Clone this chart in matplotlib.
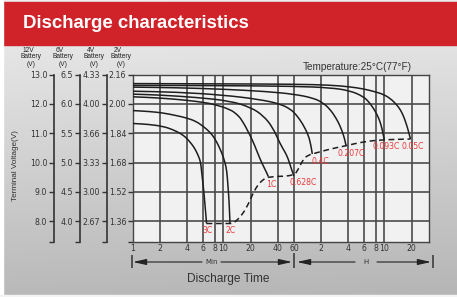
import numpy as np
import matplotlib
matplotlib.use("Agg")
import matplotlib.pyplot as plt
from matplotlib.patches import Rectangle, PathPatch
from matplotlib.path import Path

# ---------------- data ----------------
rates = ['3C', '2C', '1C', '0.628C', '0.4C', '0.207C', '0.093C', '0.05C']
# time in minutes, voltage in 12V-battery units
t_3c = [1, 1.5, 2.16, 2.7, 3.31, 3.8, 4.26, 4.7, 5.06, 5.35, 5.6, 5.74, 5.98, 6.25, 6.5]
v_3c = [11.33, 11.3, 11.23, 11.13, 11.0, 10.87, 10.7, 10.53, 10.35, 10.18, 10.0, 9.66, 9.2, 8.55, 7.92]
t_2c = [1, 1.5, 2.16, 3, 3.92, 5, 5.98, 7, 8.05, 9.55, 10.4, 10.9, 11.2, 11.5, 11.8]
v_2c = [11.77, 11.74, 11.69, 11.6, 11.52, 11.4, 11.23, 11.05, 10.82, 10.35, 10.0, 9.7, 9.2, 8.75, 7.92]
t_1c = [1, 2, 4, 6, 8, 11.8, 14, 16, 19.6, 22, 25.3, 28.7, 30, 31.3]
v_1c = [12.24, 12.2, 12.12, 12.05, 11.98, 11.81, 11.65, 11.45, 10.94, 10.6, 10.12, 9.77, 9.65, 9.52]
t_0628c = [1, 2, 5, 11.8, 20, 27.5, 35, 42, 48, 52, 56, 60]
v_0628c = [12.33, 12.3, 12.22, 12.1, 11.88, 11.6, 11.2, 10.65, 10.35, 10.12, 9.8, 9.54]
t_04c = [1, 3, 10, 25, 42, 55, 64, 75, 86.5, 92, 95.8]
v_04c = [12.43, 12.4, 12.3, 12.15, 12.0, 11.82, 11.62, 11.32, 10.94, 10.62, 10.29]
t_0207c = [1, 3, 10, 30, 60, 98, 125, 150, 175, 194, 210, 220, 226]
v_0207c = [12.57, 12.55, 12.5, 12.42, 12.33, 12.2, 12.04, 11.82, 11.52, 11.25, 10.97, 10.75, 10.57]
t_0093c = [1, 10, 60, 150, 250, 351, 400, 452, 500, 536, 565, 583, 598]
v_0093c = [12.63, 12.62, 12.6, 12.55, 12.45, 12.25, 12.08, 11.86, 11.62, 11.4, 11.15, 10.94, 10.78]
t_005c = [1, 10, 60, 150, 250, 351, 450, 580, 700, 820, 900, 970, 1030, 1080, 1120, 1165]
v_005c = [12.69, 12.68, 12.67, 12.64, 12.58, 12.51, 12.43, 12.33, 12.18, 11.97, 11.8, 11.6, 11.38, 11.18, 11.0, 10.8]

# end-voltage (cut-off) dashed line
t_cut = [6.5, 11.8, 12.8, 15.2, 18.0, 21.3, 24.3, 27.5, 31.3, 60, 67, 73, 79.4, 90.3, 95.8, 150, 226, 351, 598, 1165]
v_cut = [7.92, 7.92, 7.92, 8.13, 8.45, 8.97, 9.26, 9.42, 9.52, 9.54, 9.77, 10.0, 10.18, 10.27, 10.29, 10.46, 10.57, 10.71, 10.78, 10.8]

x_ticks = [1, 2, 4, 6, 8, 10, 20, 40, 60, 120, 240, 360, 480, 600, 1200]
x_ticklabels = ['1', '2', '4', '6', '8', '10', '20', '40', '60', '2', '4', '6', '8', '10', '20']
y_ticks = [8, 9, 10, 11, 12, 13]
labels_12v = ['8.0', '9.0', '10.0', '11.0', '12.0', '13.0']
labels_6v = ['4.0', '4.5', '5.0', '5.5', '6.0', '6.5']
labels_4v = ['2.67', '3.00', '3.33', '3.66', '4.00', '4.33']
labels_2v = ['1.36', '1.52', '1.68', '1.84', '2.00', '2.16']
battery_headers = ['12V', '6V', '4V', '2V']

curves = [(t_3c, v_3c), (t_2c, v_2c), (t_1c, v_1c), (t_0628c, v_0628c),
          (t_04c, v_04c), (t_0207c, v_0207c), (t_0093c, v_0093c), (t_005c, v_005c)]
label_offsets = [(1, -7), (1, -7), (3, -8), (9, -7), (8, -8), (5, -8), (2, -7), (2, -7)]


def smooth_path(t, v):
    """Quadratic-Bezier rendering through the read points (log-x midpoints)."""
    t = np.asarray(t, float)
    v = np.asarray(v, float)
    verts = [(t[0], v[0])]
    codes = [Path.MOVETO]
    n = len(t)
    if n > 2:
        verts.append((np.sqrt(t[0] * t[1]), (v[0] + v[1]) / 2))
        codes.append(Path.LINETO)
        for i in range(1, n - 1):
            mid = (np.sqrt(t[i] * t[i + 1]), (v[i] + v[i + 1]) / 2)
            verts += [(t[i], v[i]), mid]
            codes += [Path.CURVE3, Path.CURVE3]
    verts.append((t[-1], v[-1]))
    codes.append(Path.LINETO)
    return Path(verts, codes)


# ---------------- figure ----------------
W, H = 457, 297
fig = plt.figure(figsize=(W / 100, H / 100), dpi=100)

bg = fig.add_axes([0, 0, 1, 1])
bg.set_xlim(0, W)
bg.set_ylim(H, 0)
bg.axis('off')
yy = np.linspace(0, 1, 300)[:, None]
xx = np.linspace(0, 1, 400)[None, :]
g = 0.935 - 0.21 * yy - 0.015 * xx
img = np.dstack([g] * 3)
bg.imshow(img, extent=(0, W, H, 0), aspect='auto', zorder=0)
bg.add_patch(Rectangle((3, 2), W - 3, 43, color='#cf2229', zorder=1))
bg.add_patch(Rectangle((0, 0), 3, H, color='white', zorder=2))
bg.add_patch(Rectangle((0, 295), W, 2, color='#f4f4f4', zorder=2))
bg.text(23, 23.5, 'Discharge characteristics', color='white', fontsize=13.4,
        fontweight='bold', family='Liberation Sans', va='center', ha='left', zorder=3)

# header for voltage columns
hdr_x = [31, 63, 94, 121]
for hx, name in zip(hdr_x, battery_headers):
    bg.text(hx - 3, 50.5, name, fontsize=4.8, family='Liberation Sans', color='#222',
            ha='center', va='center')
    bg.text(hx, 57, 'Battery', fontsize=4.8, family='Liberation Sans', color='#222',
            ha='center', va='center')
    bg.text(hx, 64.5, '(V)', fontsize=4.8, family='Liberation Sans', color='#222',
            ha='center', va='center')

bg.text(16, 165.5, 'Terminal Voltage(V)', rotation=90, fontsize=5.9,
        family='Liberation Sans', color='#333', ha='center', va='center')
bg.text(357.5, 66.7, 'Temperature:25°C(77°F)', fontsize=7.2, family='Liberation Sans',
        color='#333', ha='center', va='center')

# Min / H arrows
ay = 262
for xb, y0, y1 in [(132, 255, 268), (294, 253, 268), (433, 255, 268)]:
    bg.plot([xb, xb], [y0, y1], color='#333', lw=1.1, solid_capstyle='butt')
aprops = dict(arrowstyle='-|>,head_length=0.8,head_width=0.18', color='#222', lw=0.8,
              shrinkA=0, shrinkB=0)
bg.annotate('', xy=(133, ay), xytext=(202, ay), arrowprops=aprops)
bg.annotate('', xy=(292, ay), xytext=(221, ay), arrowprops=aprops)
bg.annotate('', xy=(297, ay), xytext=(355, ay), arrowprops=aprops)
bg.annotate('', xy=(431, ay), xytext=(377, ay), arrowprops=aprops)
bg.text(211.5, ay, 'Min', fontsize=5.0, color='#333', ha='center', va='center')
bg.text(366, ay, 'H', fontsize=5.0, color='#333', ha='center', va='center')
bg.text(228, 279, 'Discharge Time', fontsize=8.6, family='Liberation Sans', color='#333',
        ha='center', va='center')

# ---------------- main plot ----------------
left, right, top, bottom = 133, 429, 74.5, 241.7
ax = fig.add_axes([left / W, (H - bottom) / H, (right - left) / W, (bottom - top) / H])
ax.set_facecolor('#f1f1f1')
ax.set_xscale('log')
ax.set_xlim(1, 1866)
ax.set_ylim(7.3, 13.0)

for xt in x_ticks[1:]:
    ax.axvline(xt, color='#3c3c3c', lw=1.1, zorder=1)
for yt in y_ticks[:-1]:
    ax.axhline(yt, color='#4c4c4c', lw=1.2, zorder=1)

for (tt, vv), lab, off in zip(curves, rates, label_offsets):
    ax.add_patch(PathPatch(smooth_path(tt, vv), fill=False, edgecolor='#1e1e1e',
                           lw=1.1, zorder=3, joinstyle='round'))
    ax.annotate(lab, xy=(tt[-1], vv[-1]), xytext=(off[0] * 0.72, off[1] * 0.72),
                textcoords='offset points', fontsize=5.6, color='#e8393b',
                ha='center', va='center', zorder=4)
ax.add_patch(PathPatch(smooth_path(t_cut, v_cut), fill=False, edgecolor='#1e1e1e',
                       lw=1.1, ls=(0, (3.8, 2.4)), zorder=3))

ax.set_xticks(x_ticks)
ax.set_xticklabels(x_ticklabels)
ax.xaxis.set_minor_locator(matplotlib.ticker.NullLocator())
ax.tick_params(axis='x', length=0, pad=2.0, labelsize=5.6, labelcolor='#333')
ax.set_yticks([7.3] + y_ticks)
ax.set_yticklabels([''] + labels_2v)
ax.tick_params(axis='y', length=3.6, width=1.0, color='#333', pad=1.2,
               labelsize=5.7, labelcolor='#333', direction='out')
for s in ax.spines.values():
    s.set_color('#444')
    s.set_linewidth(1.0)

# extra voltage scales
for xpos, labs in [(54, labels_12v), (79.5, labels_6v), (107, labels_4v)]:
    a2 = fig.add_axes([xpos / W, (H - bottom) / H, 0.5 / W, (bottom - top) / H])
    a2.set_ylim(7.3, 13.0)
    a2.patch.set_visible(False)
    for k in ['top', 'right', 'bottom']:
        a2.spines[k].set_visible(False)
    a2.spines['left'].set_color('#333')
    a2.spines['left'].set_linewidth(1.2)
    a2.set_xticks([])
    a2.set_yticks([7.3] + y_ticks)
    a2.set_yticklabels([''] + labs)
    a2.tick_params(axis='y', length=3.6, width=1.0, color='#333', pad=1.2,
                   labelsize=5.7, labelcolor='#333', direction='out')

fig.savefig('out.png', dpi=100)
